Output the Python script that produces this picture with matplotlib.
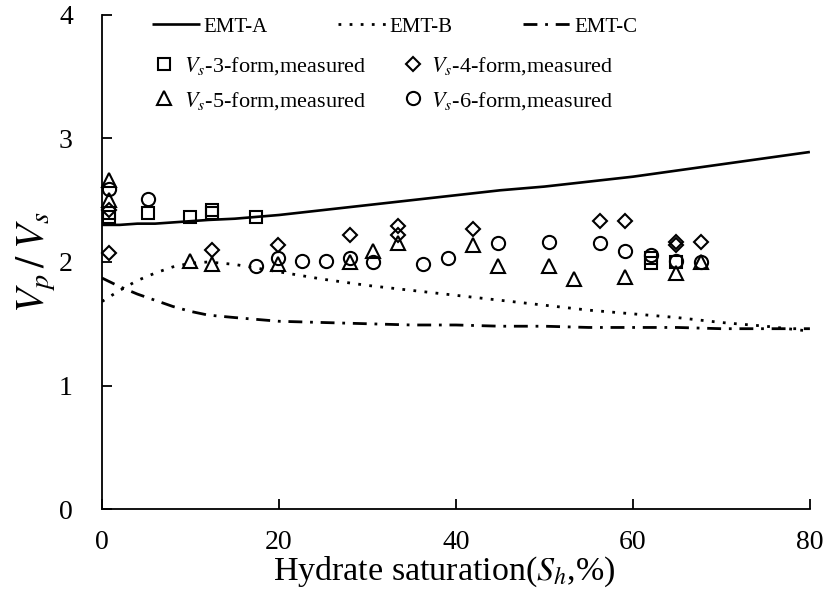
import numpy as np
import matplotlib
matplotlib.use('Agg')
import matplotlib.pyplot as plt

plt.rcParams['font.family'] = ['Liberation Serif', 'DejaVu Serif']
plt.rcParams['mathtext.fontset'] = 'stix'

# model curves (Vp/Vs vs hydrate saturation)
sh_model = [0, 2, 4, 6, 8, 10, 12, 15, 20, 25, 30, 35, 40, 45, 50, 55, 60, 65, 70, 75, 80]
emt_a = [2.30, 2.30, 2.31, 2.31, 2.32, 2.33, 2.34, 2.35, 2.38, 2.42, 2.46, 2.50, 2.54,
         2.58, 2.61, 2.65, 2.69, 2.74, 2.79, 2.84, 2.89]
emt_b = [1.68, 1.77, 1.85, 1.91, 1.96, 1.99, 2.00, 1.98, 1.92, 1.86, 1.81, 1.77, 1.73,
         1.69, 1.65, 1.61, 1.58, 1.55, 1.51, 1.48, 1.44]
emt_c = [1.87, 1.80, 1.74, 1.69, 1.64, 1.60, 1.57, 1.55, 1.52, 1.51, 1.50, 1.49, 1.49,
         1.48, 1.48, 1.47, 1.47, 1.47, 1.46, 1.46, 1.46]

# measured points
vs3_x = [0.8, 0.8, 5.2, 9.9, 12.4, 12.4, 17.4, 62.0, 62.0, 64.9]
vs3_y = [2.36, 2.40, 2.40, 2.36, 2.40, 2.42, 2.36, 1.99, 2.03, 2.00]

vs4_x = [0.8, 0.8, 12.4, 19.9, 28.0, 33.4, 33.4, 41.9, 56.3, 59.1, 64.9, 64.9, 67.7]
vs4_y = [2.42, 2.07, 2.10, 2.14, 2.22, 2.29, 2.22, 2.27, 2.33, 2.33, 2.14, 2.16, 2.16]

vs5_x = [0.8, 0.8, 9.9, 12.4, 19.9, 28.0, 30.6, 33.4, 41.9, 44.7, 50.5, 53.3, 59.1, 64.9, 67.7]
vs5_y = [2.66, 2.50, 2.01, 1.98, 1.98, 2.00, 2.09, 2.15, 2.14, 1.97, 1.97, 1.86, 1.88, 1.91, 2.00]

vs6_x = [0.8, 5.2, 17.4, 19.9, 22.6, 25.3, 28.0, 30.6, 36.3, 39.1, 44.7, 50.5, 56.3,
         59.1, 62.0, 64.9, 67.7]
vs6_y = [2.59, 2.51, 1.97, 2.03, 2.01, 2.01, 2.03, 2.00, 1.98, 2.03, 2.15, 2.16, 2.15,
         2.09, 2.06, 2.01, 2.00]

xticks = [0, 20, 40, 60, 80]
yticks = [0, 1, 2, 3, 4]

fig = plt.figure(figsize=(8.26, 5.92), dpi=100)
ax = fig.add_axes([0.1235, 0.140, 0.857, 0.835])

la, = ax.plot(sh_model, emt_a, color='black', lw=1.9, solid_capstyle='butt')
lb, = ax.plot(sh_model, emt_b, color='black', lw=2.0, linestyle=(0, (1, 3)),
              dash_capstyle='butt')
lc, = ax.plot(sh_model, emt_c, color='black', lw=2.0, linestyle=(0, (5, 2.8, 1, 2.8)),
              dash_capstyle='butt')

mk = dict(linestyle='none', markerfacecolor='none', markeredgecolor='black',
          markeredgewidth=1.5, clip_on=False)
m3, = ax.plot(vs3_x, vs3_y, marker='s', markersize=8.5, **mk)
m4, = ax.plot(vs4_x, vs4_y, marker='D', markersize=7.5, **mk)
m5, = ax.plot(vs5_x, vs5_y, marker='^', markersize=10.5, **mk)
m6, = ax.plot(vs6_x, vs6_y, marker='o', markersize=9.5, **mk)

ax.set_xlim(0, 80)
ax.set_ylim(0, 4)
ax.set_xticks(xticks)
ax.set_yticks(yticks)
ax.spines['top'].set_visible(False)
ax.spines['right'].set_visible(False)
for s in ['left', 'bottom']:
    ax.spines[s].set_linewidth(1.3)
ax.tick_params(axis='both', direction='in', length=7, width=1.3, labelsize=20)
ax.tick_params(axis='x', pad=15)
ax.tick_params(axis='y', pad=21)

ax.set_xlabel('Hydrate saturation($S_h$,%)', fontsize=24.5, va='center')
ax.xaxis.set_label_coords(0.484, -0.126)
ax.set_ylabel(r'$V_p\,/\;V_s$', fontsize=29, va='center')
ax.yaxis.set_label_coords(-0.093, 0.5)

# legends
leg1 = ax.legend([la, lb, lc], ['EMT-A', 'EMT-B', 'EMT-C'], ncol=3, frameon=False,
                 loc='center left', bbox_to_anchor=(152 / 826, 1 - 27 / 592),
                 bbox_transform=fig.transFigure, borderpad=0, borderaxespad=0,
                 handlelength=2.3, handletextpad=0.15, columnspacing=3.4, fontsize=15)
ax.add_artist(leg1)

leg2 = ax.legend([m3, m5], ['$V_s$-3-form,measured', '$V_s$-5-form,measured'],
                 frameon=False, loc='center left', numpoints=1,
                 bbox_to_anchor=(153 / 826, 1 - 83.5 / 592),
                 bbox_transform=fig.transFigure, borderpad=0, borderaxespad=0,
                 handlelength=1.0, handletextpad=0.4, labelspacing=0.55, fontsize=16)
ax.add_artist(leg2)

leg3 = ax.legend([m4, m6], ['$V_s$-4-form,measured', '$V_s$-6-form,measured'],
                 frameon=False, loc='center left', numpoints=1,
                 bbox_to_anchor=(402 / 826, 1 - 83.5 / 592),
                 bbox_transform=fig.transFigure, borderpad=0, borderaxespad=0,
                 handlelength=1.0, handletextpad=0.3, labelspacing=0.55, fontsize=16)

plt.savefig('out.png', dpi=100)
